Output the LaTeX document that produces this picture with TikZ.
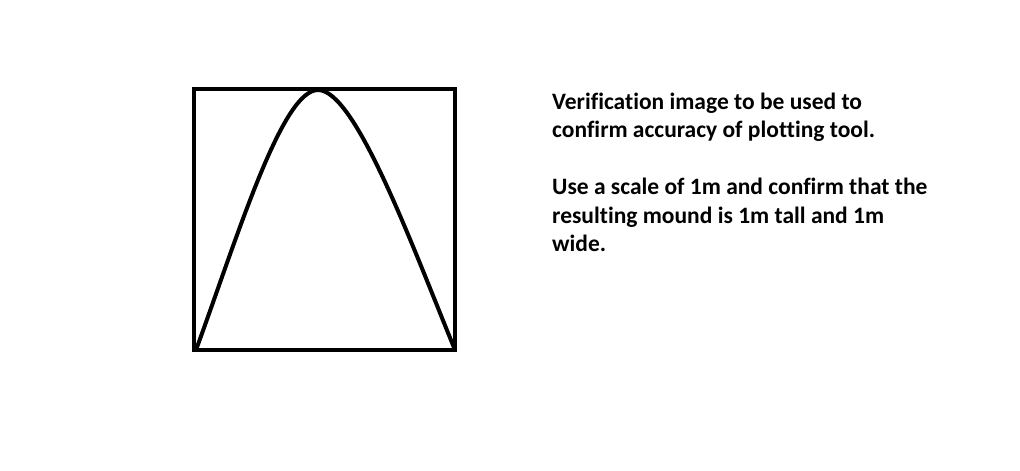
\documentclass[tikz,border=0pt]{standalone}
\usepackage{fontspec}
\setmainfont{Carlito}[Ligatures=CommonOff]
\usetikzlibrary{positioning}

\begin{document}
\begin{tikzpicture}[x=1pt,y=-1pt,
    outline/.style={line width=4pt,black},
    note/.style={inner sep=0pt,align=left,font=\bfseries\fontsize{23.5}{28.5}\selectfont}]
            \useasboundingbox (0,0) rectangle (1020,471);
            % box and mound
            \draw[outline] (194,89) rectangle (455,350);
            \coordinate (base-l) at (196,350);
            \coordinate (peak) at (318,90);
            \coordinate (base-r) at (455,350);
            \draw[outline,line join=round] (base-l) .. controls (238,235) and (282,90) .. (peak)
                .. controls (355,90) and (410,240) .. (base-r);
            % note text
            \node[note,anchor=north west] (txt) at (552,92.5)
            {Verification image to be used to\\
             confirm accuracy of plotting tool.\\[28.5pt]
             Use a scale of 1m and confirm that the\\
             resulting mound is 1m tall and 1m\\
             wide.};
        \end{tikzpicture}
\end{document}
